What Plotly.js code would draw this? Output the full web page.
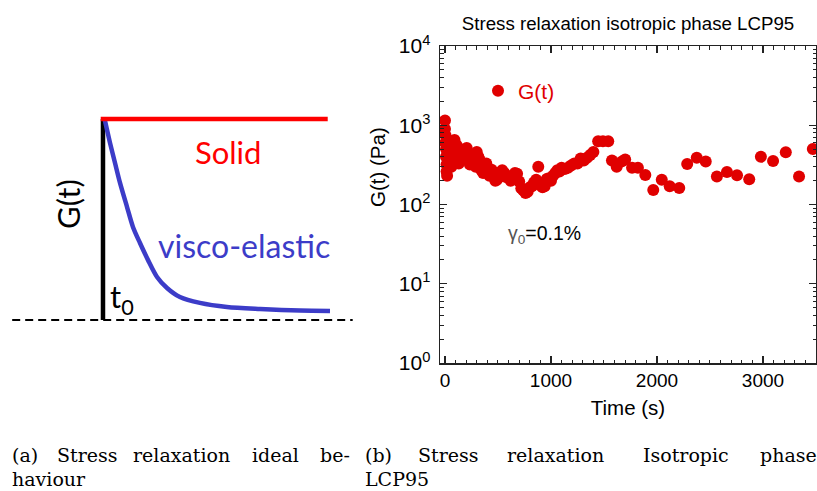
<!DOCTYPE html>
<html>
<head>
<meta charset="utf-8">
<script src="https://cdn.plot.ly/plotly-3.0.1.min.js"></script>
<style>html,body{margin:0;padding:0;background:#fff;}#chart{width:817px;height:491px;}</style>
</head>
<body>
<div id="chart"></div>
<script>
// ---------- Panel (b): measured stress relaxation data ----------
const timeS = [0,0,5,5,10,10,15,15,20,25,30,40,50,55,60,70,80,90,100,110,120,130,140,150,170,190,205,220,235,250,270,290,300,315,330,345,360,375,390,405,420,440,460,475,490,505,520,540,560,580,600,620,640,660,680,700,720,740,760,780,800,820,840,860,880,900,920,940,960,980,1000,1020,1040,1060,1080,1100,1130,1160,1190,1220,1250,1280,1310,1340,1370,1400,1445,1490,1540,1575,1620,1670,1700,1765,1820,1890,1965,2045,2120,2210,2285,2375,2460,2565,2660,2755,2870,2980,3095,3215,3340,3470];
const gPa   = [1150,900,750,600,500,400,320,260,230,450,350,300,380,520,300,420,600,650,480,560,380,330,500,420,370,460,515,430,320,400,350,300,460,400,360,270,250,290,330,270,230,275,240,200,205,250,225,270,250,220,225,200,230,250,245,195,160,150,140,145,165,170,190,205,300,175,165,170,210,215,200,230,250,270,260,290,280,290,310,330,330,380,360,390,420,460,630,630,630,360,300,350,370,290,290,235,152,205,170,162,325,390,348,225,257,234,208,400,355,457,225,502];
const xTickVals = [0,1000,2000,3000];
const yTickVals = [1,10,100,1000,10000];
const yTickText = ['10<sup>0</sup>','10<sup>1</sup>','10<sup>2</sup>','10<sup>3</sup>','10<sup>4</sup>'];

// ---------- Panel (a): schematic ideal behaviour ----------
const schemT  = [0.008,0.031,0.053,0.075,0.106,0.132,0.163,0.198,0.238,0.282,0.339,0.427,0.546,0.692,0.868,1.0];
const schemG  = [0.995,0.881,0.781,0.682,0.562,0.463,0.383,0.299,0.214,0.159,0.114,0.085,0.065,0.055,0.047,0.045];
const solidT  = [-0.01,0.99];
const solidG  = [1,1];
const stepT   = [0,0];
const stepG   = [0,1];
const baseT   = [-0.40,1.10];
const baseG   = [0,0];

const W = 817, H = 491;
const px = v => v / W;
const py = v => 1 - v / H;
const sans = 'Liberation Sans, Arial, sans-serif';
const serif = 'DejaVu Serif, serif';
const lato = 'Lato, Open Sans, sans-serif';
const blue = 'rgb(60,60,200)';
const red = '#e00000';

const traces = [
  {x: baseT, y: baseG, xaxis:'x2', yaxis:'y2', mode:'lines', showlegend:false, hoverinfo:'skip',
   line:{color:'#000', width:2, dash:'8px,5px'}},
  {x: stepT, y: stepG, xaxis:'x2', yaxis:'y2', mode:'lines', showlegend:false, hoverinfo:'skip',
   line:{color:'#000', width:4.5}},
  {x: schemT, y: schemG, xaxis:'x2', yaxis:'y2', mode:'lines', showlegend:false, hoverinfo:'skip',
   line:{color:blue, width:4.5, shape:'spline', smoothing:0.8}},
  {x: solidT, y: solidG, xaxis:'x2', yaxis:'y2', mode:'lines', showlegend:false, hoverinfo:'skip',
   line:{color:'#ff0000', width:4.5}},
  {x: timeS, y: gPa, mode:'markers', name:'G(t)', showlegend:true,
   marker:{color:red, size:12}}
];

function word(text, x, y){
  return {text:text, xref:'paper', yref:'paper', x:px(x), y:py(y), xanchor:'left', yanchor:'middle',
          showarrow:false, font:{family:serif, size:19, color:'#000'}};
}

const annotations = [
  // panel (a) labels
  {text:'Solid', xref:'paper', yref:'paper', x:px(228), y:py(152), xanchor:'center', yanchor:'middle', showarrow:false,
   font:{family:lato, size:31, color:'#ff0000'}},
  {text:'visco-elastic', xref:'paper', yref:'paper', x:px(244), y:py(245), xanchor:'center', yanchor:'middle', showarrow:false,
   font:{family:lato, size:32, color:blue}},
  {text:'G(t)', xref:'paper', yref:'paper', x:px(68), y:py(204), xanchor:'center', yanchor:'middle', showarrow:false, textangle:-90,
   font:{family:lato, size:31, color:'#000'}},
  {text:'t<sub>0</sub>', xref:'paper', yref:'paper', x:px(108), y:py(298), xanchor:'left', yanchor:'middle', showarrow:false,
   font:{family:lato, size:31, color:'#000'}},
  // panel (b) y-axis title (placed off-centre as in the original)
  {text:'G(t) (Pa)', xref:'paper', yref:'paper', x:px(378), y:py(167), xanchor:'center', yanchor:'middle', showarrow:false, textangle:-90,
   font:{family:sans, size:20.5, color:'#000'}},
  // panel (b) annotation
  {text:'<span style="color:#555">γ<sub>0</sub></span>=0.1%', xref:'paper', yref:'paper', x:px(506), y:py(235), xanchor:'left', yanchor:'middle', showarrow:false,
   font:{family:sans, size:19.5, color:'#000'}},
  // captions
  word('(a)', 10, 455), word('Stress', 55, 455), word('relaxation', 131, 455), word('ideal', 250, 455), word('be-', 318, 455),
  word('haviour', 10, 479),
  word('(b)', 363, 455), word('Stress', 416, 455), word('relaxation', 505, 455), word('Isotropic', 641, 455), word('phase', 758, 455),
  word('LCP95', 363, 479)
];

const layout = {
  width: W, height: H,
  margin:{l:0, r:0, t:0, b:0},
  paper_bgcolor:'#fff', plot_bgcolor:'rgba(0,0,0,0)',
  showlegend:true,
  font:{family:sans, color:'#000'},
  title:{text:'Stress relaxation isotropic phase LCP95', x:px(628), xanchor:'center', y:py(23), yanchor:'middle',
         font:{family:sans, size:18.7, color:'#000'}},
  legend:{x:px(478), y:py(91), xanchor:'left', yanchor:'middle', bgcolor:'rgba(0,0,0,0)',
          font:{family:sans, size:21, color:red}},
  xaxis:{domain:[px(440), px(816)], range:[-47,3500], anchor:'y',
         showgrid:false, zeroline:false, showline:true, linecolor:'#222', linewidth:1.5, mirror:'ticks',
         ticks:'inside', ticklen:7, tickwidth:1.2, tickcolor:'#222',
         tickmode:'array', tickvals:xTickVals, tickfont:{family:sans, size:19, color:'#000'},
         minor:{ticks:'inside', dtick:100, ticklen:3.5, tickwidth:1, tickcolor:'#222'},
         title:{text:'Time (s)', font:{family:sans, size:20.5, color:'#000'}, standoff:10}},
  yaxis:{domain:[py(363), py(46)], type:'log', range:[0,4], anchor:'x',
         showgrid:false, zeroline:false, showline:true, linecolor:'#222', linewidth:1.5, mirror:'ticks',
         ticks:'inside', ticklen:7, tickwidth:1.2, tickcolor:'#222',
         tickmode:'array', tickvals:yTickVals, ticktext:yTickText, tickfont:{family:sans, size:21, color:'#000'},
         ticklabelstandoff:4,
         minor:{ticks:'inside', dtick:'D1', ticklen:3.5, tickwidth:1, tickcolor:'#222'}},
  xaxis2:{domain:[0, px(360)], range:[-0.4537, 1.1322], visible:false, anchor:'y2'},
  yaxis2:{domain:[0,1], range:[-0.851, 1.592], visible:false, anchor:'x2'},
  annotations: annotations
};

Plotly.newPlot('chart', traces, layout, {displayModeBar:false, staticPlot:true});
</script>
</body>
</html>
